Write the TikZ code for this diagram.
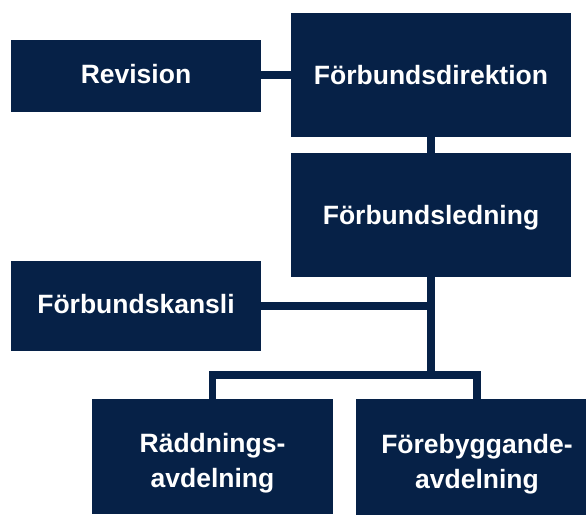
\documentclass[tikz,border=0pt]{standalone}
\usepackage{fontspec}
\setmainfont{Liberation Sans}
\definecolor{navy}{RGB}{6,33,71}
\newcommand{\toppad}{\rule{0pt}{33pt}}
\begin{document}
\begin{tikzpicture}[x=1pt,y=-1pt,
  orgbox/.style={rectangle,fill=navy,draw=none,inner sep=0pt,text=white,align=center,
    font=\fontsize{26.5}{35}\selectfont\bfseries},
  oneline/.style={text height=#1,text depth=0pt},
  oneline/.default=19pt,
  link/.style={draw=navy,line width=7.5pt,line join=miter}]
\useasboundingbox (0,0) rectangle (586,515);
\node[orgbox,oneline=14pt,minimum width=250pt,minimum height=72pt] (rev) at (136,76) {Revision};
\node[orgbox,oneline,minimum width=280pt,minimum height=124pt] (dir) at (431,75) {Förbundsdirektion};
\node[orgbox,oneline,minimum width=280pt,minimum height=124pt] (led) at (431,215) {Förbundsledning};
\node[orgbox,oneline=15pt,minimum width=250pt,minimum height=90pt] (kan) at (136,306) {Förbundskansli};
\node[orgbox,minimum width=241pt,minimum height=115pt] (rad) at (212.5,456.5) {\toppad Räddnings-\\avdelning};
\node[orgbox,minimum width=242pt,minimum height=116pt] (fore) at (477,457) {\toppad Förebyggande-\\avdelning};
\coordinate (bus) at (431,375);
\coordinate (kanj) at (431,306);
\path[link] (rev.east |- 0,75) -- (dir.west |- 0,75);
\path[link] (dir.south) -- (led.north);
\path[link] (led.south) -- (bus);
\path[link] (kan.east) -- (kanj);
\path[link] (rad.north) |- (bus) -| (fore.north);
\end{tikzpicture}
\end{document}
